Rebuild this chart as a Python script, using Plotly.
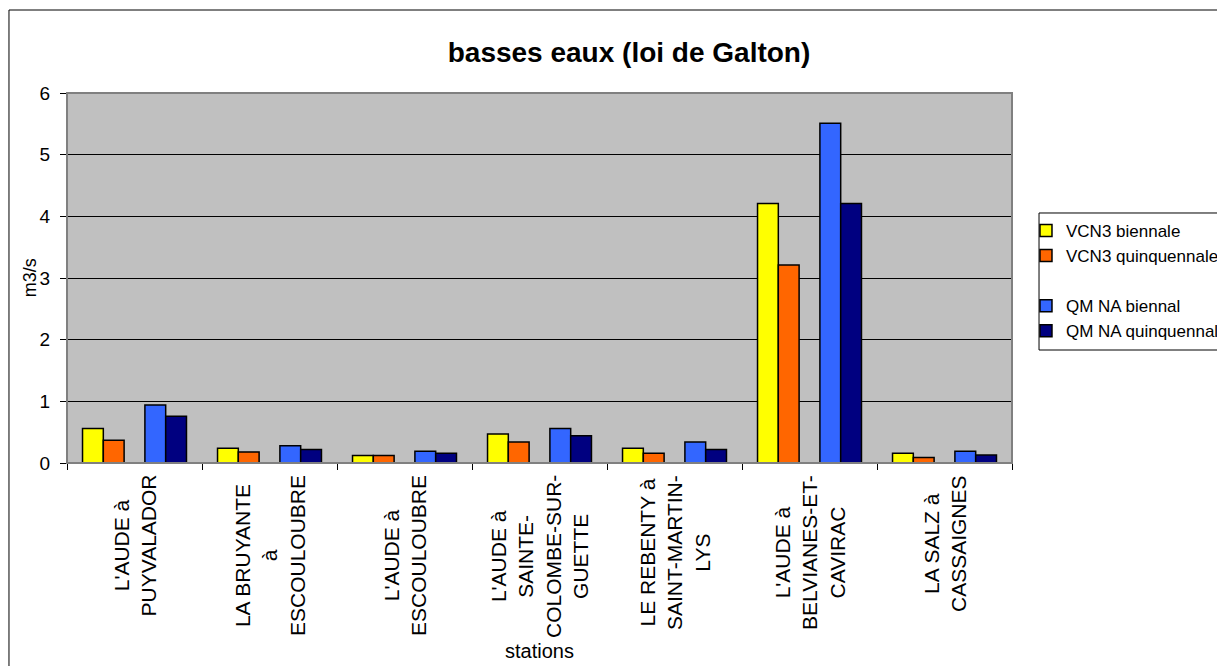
import plotly.graph_objects as go

stations = [
    "L'AUDE à<br>PUYVALADOR",
    "LA BRUYANTE<br>à<br>ESCOULOUBRE",
    "L'AUDE à<br>ESCOULOUBRE",
    "L'AUDE à<br>SAINTE-<br>COLOMBE-SUR-<br>GUETTE",
    "LE REBENTY à<br>SAINT-MARTIN-<br>LYS",
    "L'AUDE à<br>BELVIANES-ET-<br>CAVIRAC",
    "LA SALZ à<br>CASSAIGNES",
]
vcn3_biennale = [0.56, 0.24, 0.12, 0.47, 0.24, 4.21, 0.16]
vcn3_quinquennale = [0.37, 0.18, 0.12, 0.34, 0.16, 3.21, 0.09]
blank_series = [0, 0, 0, 0, 0, 0, 0]
qmna_biennal = [0.94, 0.28, 0.19, 0.56, 0.34, 5.51, 0.19]
qmna_quinquennal = [0.76, 0.22, 0.16, 0.44, 0.22, 4.21, 0.13]

y_ticks = [0, 1, 2, 3, 4, 5, 6]

FONT = "Liberation Sans, Arial, sans-serif"
cats = list(range(len(stations)))

fig = go.Figure()
series = [
    ("VCN3 biennale", vcn3_biennale, "#FFFF00", 1.5),
    ("VCN3 quinquennale", vcn3_quinquennale, "#FF6600", 1.5),
    (" ", blank_series, "rgba(0,0,0,0)", 0),
    ("QM NA biennal", qmna_biennal, "#3366FF", 1.5),
    ("QM NA quinquennal", qmna_quinquennal, "#000080", 1.5),
]
for name, vals, col, lw in series:
    fig.add_trace(go.Bar(
        x=cats, y=vals, name=name,
        marker=dict(color=col, line=dict(color="black", width=lw)),
        hoverinfo="skip" if lw == 0 else None,
    ))

annotations = []
for i, s in enumerate(stations):
    annotations.append(dict(
        x=i, y=0, xref="x", yref="paper", text=s, showarrow=False,
        textangle=-90, align="center", xanchor="center", yanchor="top",
        yshift=-10, font=dict(family=FONT, size=21, color="black"),
    ))
annotations.append(dict(
    x=0.5, y=-0.508, xref="paper", yref="paper", text="stations",
    showarrow=False, xanchor="center", yanchor="middle",
    font=dict(family=FONT, size=20, color="black"),
))
annotations.append(dict(
    x=-0.039, y=0.5, xref="paper", yref="paper", text="m3/s",
    showarrow=False, textangle=-90, xanchor="center", yanchor="middle",
    font=dict(family=FONT, size=18, color="black"),
))

shapes = [
    # plot-area frame
    dict(type="rect", xref="paper", yref="paper", x0=0, x1=1, y0=0, y1=1,
         line=dict(color="#808080", width=2), layer="above"),
    # chart-area frame
    dict(type="rect", xref="paper", yref="paper", x0=-0.0614, x1=1.4,
         y0=-0.8, y1=1.2243, line=dict(color="black", width=1), layer="below"),
    # legend frame
    dict(type="rect", xref="paper", yref="paper", x0=1.0286, x1=1.3,
         y0=0.3054, y1=0.6757, line=dict(color="black", width=1), layer="below"),
]

fig.update_layout(
    width=1250, height=666,
    margin=dict(l=59, r=246, t=85, b=211),
    paper_bgcolor="white",
    plot_bgcolor="#C0C0C0",
    barmode="group",
    bargap=0.23,
    bargroupgap=0,
    title=dict(text="<b>basses eaux (loi de Galton)</b>", x=621 / 1250, xref="container",
               xanchor="center", y=0.934, yref="container", yanchor="middle",
               font=dict(family=FONT, size=28, color="black")),
    font=dict(family=FONT, color="black"),
    showlegend=True,
    legend=dict(x=1.0148, xanchor="left", y=0.676, yanchor="top",
                bgcolor="rgba(0,0,0,0)", borderwidth=0,
                font=dict(family=FONT, size=17, color="black"),
                tracegroupgap=0, traceorder="normal"),
    annotations=annotations,
    shapes=shapes,
)
fig.update_xaxes(
    type="linear", range=[-0.5, len(stations) - 0.5],
    tickvals=[i - 0.5 for i in range(len(stations) + 1)], showticklabels=False,
    ticks="outside", ticklen=6, tickcolor="black",
    showline=True, linecolor="black", linewidth=1, showgrid=False, zeroline=False,
)
fig.update_yaxes(
    range=[0, 6], tickvals=y_ticks, ticktext=[str(v) for v in y_ticks],
    ticks="outside", ticklen=6, tickcolor="black", ticklabelstandoff=6,
    tickfont=dict(family=FONT, size=19, color="black"),
    showline=True, linecolor="black", linewidth=1,
    showgrid=True, gridcolor="black", gridwidth=1, zeroline=False,
)

fig.write_html("out.html")
